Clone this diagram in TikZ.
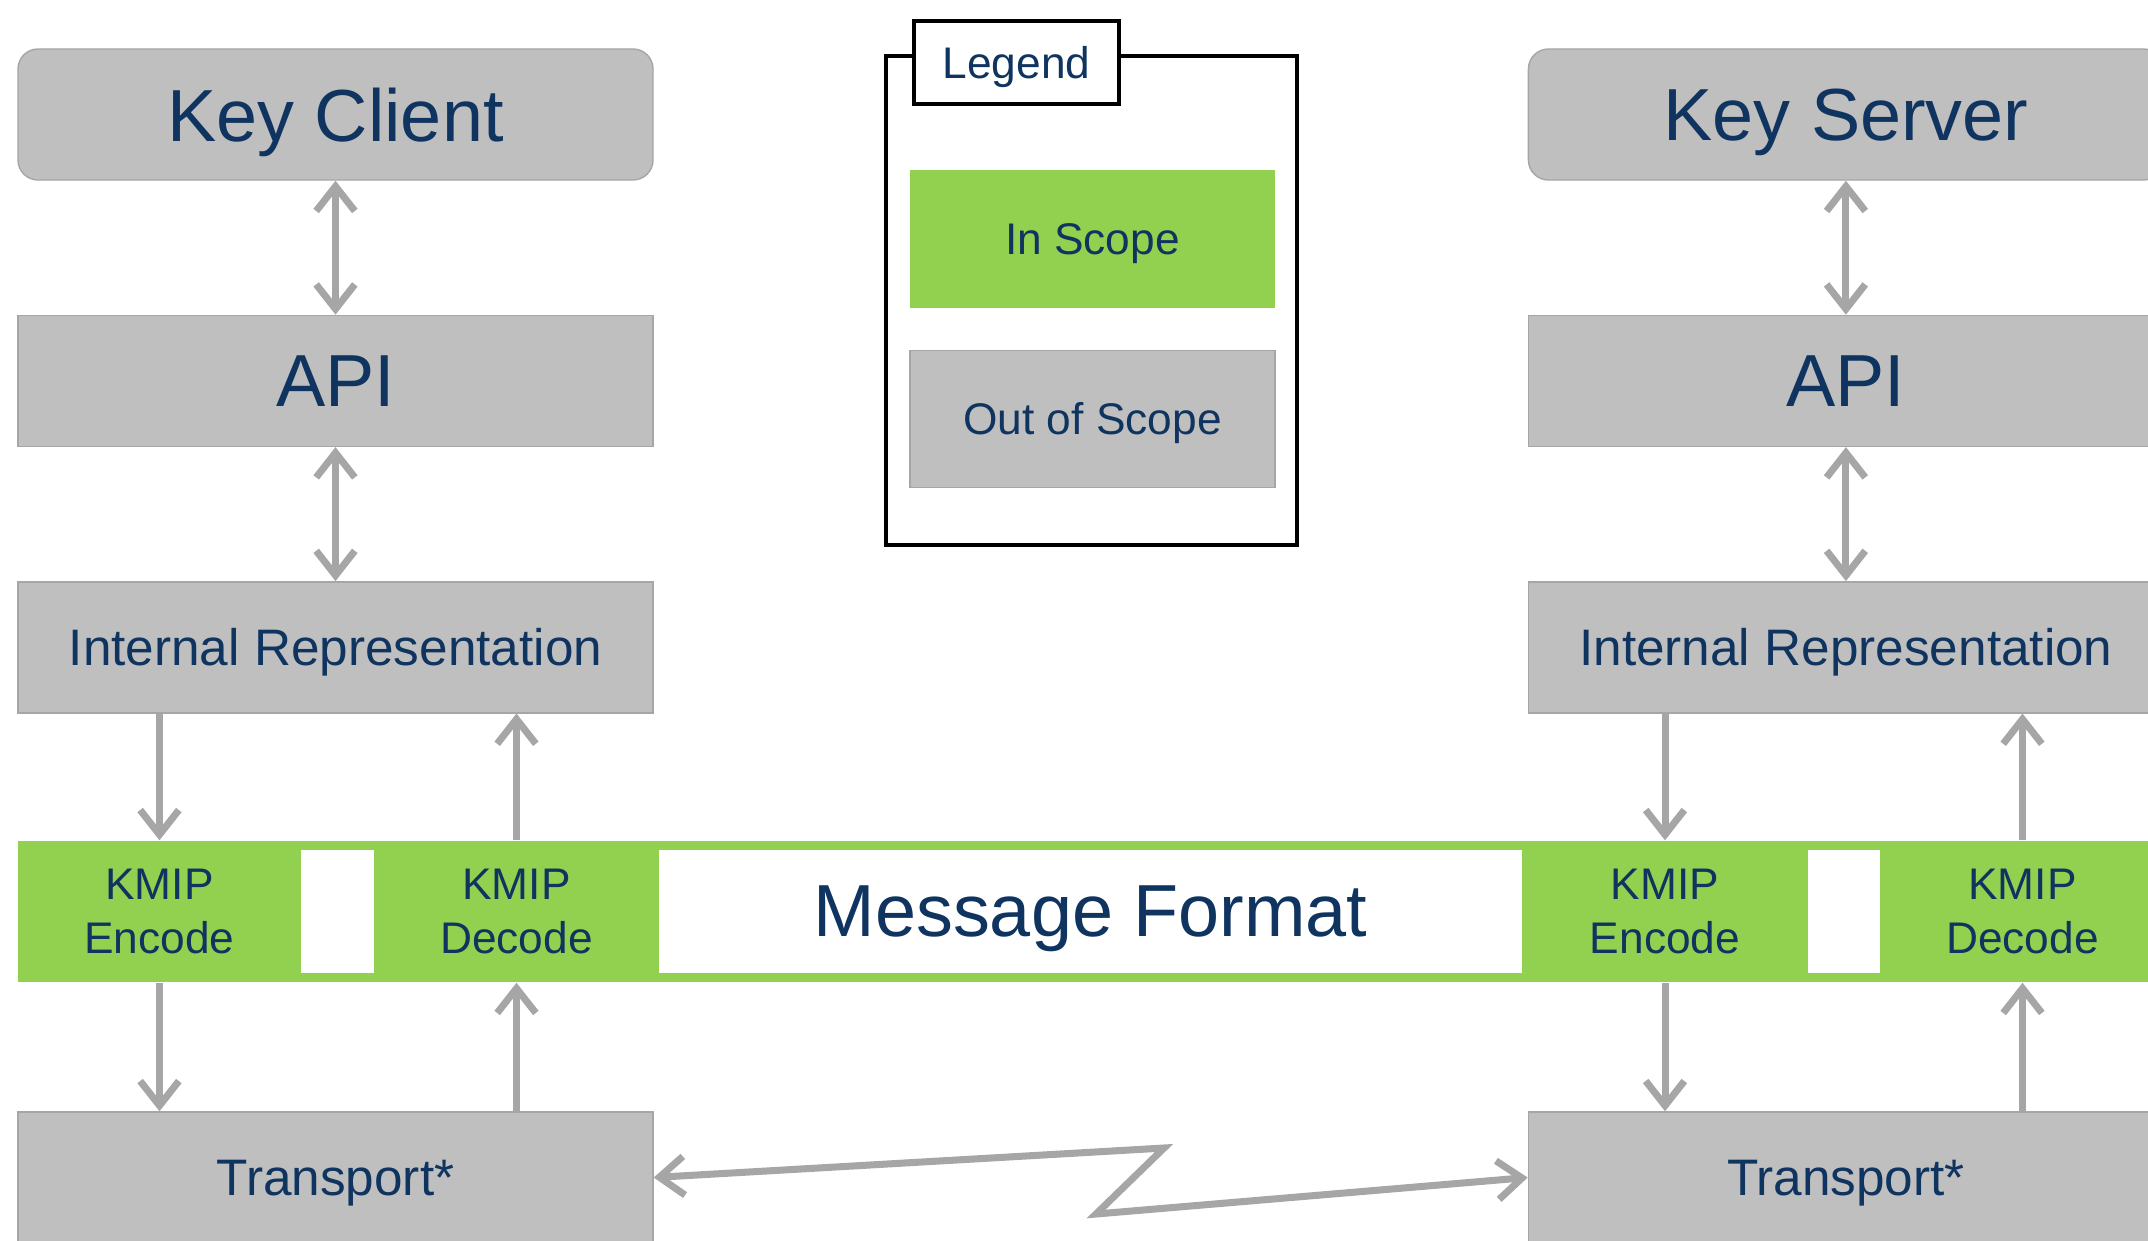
\documentclass[tikz,border=0pt]{standalone}
\usepackage{fontspec}
\setmainfont{Liberation Sans}
\usetikzlibrary{positioning}
\usetikzlibrary{arrows.meta}
\definecolor{boxgray}{RGB}{191,191,191}
\definecolor{boxline}{RGB}{166,166,166}
\definecolor{arrgray}{RGB}{166,166,166}
\definecolor{kmipgreen}{RGB}{146,208,80}
\definecolor{navy}{RGB}{16,52,96}

\begin{document}
\begin{tikzpicture}[node distance=1.34cm,every node/.style={inner sep=0pt,text=navy},
  >={Straight Barb[length=7pt,width=11pt]},
  box/.style={draw=boxline,fill=boxgray,minimum width=6.35cm,minimum height=1.31cm},
  bigtxt/.style={font=\fontsize{21}{25}\selectfont,text depth=0pt},
  midtxt/.style={font=\fontsize{14.6}{17}\selectfont,text depth=0pt},
  smalltxt/.style={font=\fontsize{12.6}{15.6}\selectfont,align=center},
  kmip/.style={smalltxt,minimum width=2.85cm,minimum height=1.41cm},
  blank/.style={fill=white,minimum height=1.23cm},
  flow/.style={draw=arrgray,line width=2pt}]
  \useasboundingbox (0,0) rectangle (21.48,12.40);
  \clip (0,0) rectangle (21.48,12.40);

  \node (kc) at (3.355,11.255)[box,rounded corners=0.2cm,bigtxt]{Key Client};
  \node[below=of kc,box,bigtxt] (apiL){API};
  \node[below=of apiL,box,midtxt] (irL){Internal Representation};

  \node[right=8.74cm of kc,box,rounded corners=0.2cm,bigtxt] (ks){Key Server};
  \node[right=8.74cm of apiL,box,bigtxt] (apiR){API};
  \node[right=8.74cm of irL,box,midtxt] (irR){Internal Representation};

  \node (band) at (10.915,3.285)[fill=kmipgreen,minimum width=21.47cm,minimum height=1.41cm]{};
  \node (gapL) at (3.375,3.285)[blank,minimum width=0.73cm]{};
  \node (msg) at (10.905,3.285)[blank,minimum width=8.63cm,bigtxt]{Message Format};
  \node (gapR) at (18.44,3.285)[blank,minimum width=0.72cm]{};
  \node (encL) at (1.595,3.285)[kmip]{KMIP\\Encode};
  \node (decL) at (5.165,3.285)[kmip]{KMIP\\Decode};
  \node (encR) at (16.65,3.285)[kmip]{KMIP\\Encode};
  \node (decR) at (20.225,3.285)[kmip]{KMIP\\Decode};

  \node (trL) at (3.355,0.625)[box,midtxt]{Transport*};
  \node[right=8.74cm of trL,box,midtxt] (trR){Transport*};

  \node (leg) at (10.915,9.395)[draw=black,line width=1pt,minimum width=4.11cm,minimum height=4.89cm]{};
  \node (legtab) at (10.165,11.775)[draw=black,fill=white,line width=1pt,minimum width=2.05cm,minimum height=0.83cm,smalltxt,text depth=0pt]{Legend};
  \node (ins) at (10.925,10.01)[fill=kmipgreen,minimum width=3.65cm,minimum height=1.38cm,smalltxt,text depth=0pt]{In Scope};
  \node[below=0.41cm of ins,box,minimum width=3.65cm,minimum height=1.37cm,smalltxt,text depth=0pt] (outs){Out of Scope};

  \coordinate (zz1) at (11.64,0.92);
  \coordinate (zz2) at (10.96,0.26);

  \draw[flow,<->](kc)--(apiL);
  \draw[flow,<->](apiL)--(irL);
  \draw[flow,<->](ks)--(apiR);
  \draw[flow,<->](apiR)--(irR);
  \draw[flow,->](irL.south -| encL)--(encL);
  \draw[flow,->](decL)--(irL.south -| decL);
  \draw[flow,->](encL)--(trL.north -| encL);
  \draw[flow,->](trL.north -| decL)--(decL);
  \draw[flow,->](irR.south -| encR)--(encR);
  \draw[flow,->](decR)--(irR.south -| decR);
  \draw[flow,->](encR)--(trR.north -| encR);
  \draw[flow,->](trR.north -| decR)--(decR);
  \draw[flow,<->](trL.east)--(zz1)--(zz2)--(trR.west);
\end{tikzpicture}
\end{document}
